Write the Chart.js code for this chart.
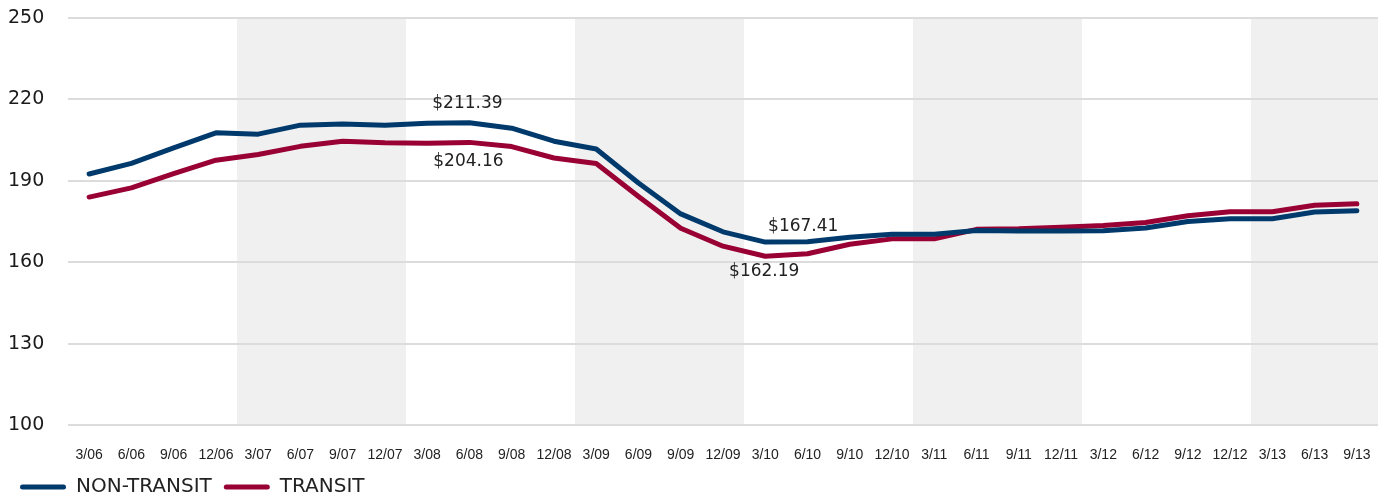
<!DOCTYPE html>
<html>
<head>
<meta charset="utf-8">
<script src="https://cdn.jsdelivr.net/npm/chart.js@4"></script>
<style>
  html, body { margin: 0; padding: 0; background: #fff; }
  #wrap { width: 1380px; height: 498px; }
</style>
</head>
<body>
<div id="wrap"><canvas id="chart"></canvas></div>
<script>
const quarters = [
  '3/06', '6/06', '9/06', '12/06',
  '3/07', '6/07', '9/07', '12/07',
  '3/08', '6/08', '9/08', '12/08',
  '3/09', '6/09', '9/09', '12/09',
  '3/10', '6/10', '9/10', '12/10',
  '3/11', '6/11', '9/11', '12/11',
  '3/12', '6/12', '9/12', '12/12',
  '3/13', '6/13', '9/13'
];

const nonTransit = [
  192.5, 196.4, 202.1, 207.7,
  207.2, 210.5, 210.9, 210.5,
  211.2, 211.39, 209.4, 204.6,
  201.7, 189.2, 177.8, 171.2,
  167.41, 167.5, 169.2, 170.3,
  170.3, 171.7, 171.5, 171.5,
  171.6, 172.6, 175.0, 176.0,
  176.0, 178.5, 179.0
];

const transit = [
  184.0, 187.4, 192.6, 197.6,
  199.7, 202.7, 204.6, 204.0,
  203.8, 204.16, 202.6, 198.4,
  196.4, 184.2, 172.5, 165.9,
  162.19, 163.1, 166.6, 168.6,
  168.6, 172.1, 172.3, 172.9,
  173.5, 174.6, 177.1, 178.6,
  178.6, 181.0, 181.5
];

const yTicks = [100, 130, 160, 190, 220, 250];

// which points get a value label: [dataset index, point index]
const callouts = [[0, 9], [1, 9], [0, 16], [1, 16]];
// pixel nudges for those labels
const calloutOffsets = [[-2, -19], [-1, 19], [38, -16], [-1, 15]];

// years shaded grey
const shadedYears = ['07', '09', '11', '13'];

const BLUE = '#003a6c';
const RED = '#990033';
const SANS = '"DejaVu Sans", "Noto Sans", sans-serif';

const bandsPlugin = {
  id: 'bands',
  beforeDraw(chart) {
    const { ctx, chartArea, scales } = chart;
    const x = scales.x;
    const step = x.getPixelForValue(1) - x.getPixelForValue(0);
    ctx.save();
    ctx.fillStyle = '#f0f0f0';
    quarters.forEach((q, i) => {
      if (shadedYears.includes(q.split('/')[1])) {
        const c = x.getPixelForValue(i);
        const l = Math.round(c - step / 2);
        const r = Math.min(Math.round(c + step / 2), Math.round(chartArea.right));
        ctx.fillRect(l, chartArea.top, r - l, chartArea.bottom - chartArea.top);
      }
    });
    ctx.restore();
  }
};

const calloutPlugin = {
  id: 'callouts',
  afterDatasetsDraw(chart) {
    const { ctx, scales } = chart;
    ctx.save();
    ctx.font = '17px ' + SANS;
    ctx.fillStyle = '#222';
    ctx.textAlign = 'center';
    ctx.textBaseline = 'middle';
    callouts.forEach(([d, i], k) => {
      const v = chart.data.datasets[d].data[i];
      const px = scales.x.getPixelForValue(i) + calloutOffsets[k][0];
      const py = scales.y.getPixelForValue(v) + calloutOffsets[k][1];
      ctx.fillText('$' + v.toFixed(2), px, py);
    });
    ctx.restore();
  }
};

new Chart(document.getElementById('chart'), {
  type: 'line',
  data: {
    labels: quarters,
    datasets: [
      {
        label: 'NON-TRANSIT',
        data: nonTransit,
        borderColor: BLUE,
        backgroundColor: BLUE,
        borderWidth: 5,
        pointRadius: 0,
        tension: 0,
        borderCapStyle: 'round',
        borderJoinStyle: 'round'
      },
      {
        label: 'TRANSIT',
        data: transit,
        borderColor: RED,
        backgroundColor: RED,
        borderWidth: 5,
        pointRadius: 0,
        tension: 0,
        borderCapStyle: 'round',
        borderJoinStyle: 'round'
      }
    ]
  },
  options: {
    responsive: true,
    maintainAspectRatio: false,
    animation: false,
    layout: { padding: { left: 8, right: 2, top: 18, bottom: 0 } },
    plugins: {
      tooltip: { enabled: false },
      legend: {
        position: 'bottom',
        align: 'start',
        maxHeight: 33,
        labels: {
          boxWidth: 46,
          boxHeight: 5,
          padding: 12,
          color: '#222',
          font: { family: SANS, size: 20 },
          useBorderRadius: true,
          borderRadius: 2.5,
          generateLabels(chart) {
            return chart.data.datasets.map((ds, i) => ({
              text: ds.label,
              fillStyle: ds.borderColor,
              strokeStyle: ds.borderColor,
              lineWidth: 0,
              borderRadius: 2.5,
              fontColor: '#222',
              datasetIndex: i,
              hidden: false
            }));
          }
        }
      }
    },
    scales: {
      x: {
        offset: true,
        // invisible tick marks push the labels down without padding the ends
        grid: { display: false, drawTicks: true, tickLength: 20, tickColor: 'rgba(0,0,0,0)' },
        border: { display: false },
        ticks: {
          color: '#222',
          padding: 2,
          maxRotation: 0,
          autoSkip: false,
          font: { family: '"Liberation Sans Narrow", "Arial Narrow", "Liberation Sans", sans-serif', size: 14 }
        },
        afterFit(scale) { scale.height = 40; }
      },
      y: {
        min: 100,
        max: 250,
        afterBuildTicks(scale) { scale.ticks = yTicks.map(v => ({ value: v })); },
        grid: { color: '#dcdcdc', lineWidth: 2, drawTicks: false },
        border: { display: false },
        ticks: {
          color: '#1a1a1a',
          crossAlign: 'far',
          padding: 0,
          font: { family: SANS, size: 19 }
        },
        afterFit(scale) { scale.width = 60; }
      }
    }
  },
  plugins: [bandsPlugin, calloutPlugin]
});
</script>
</body>
</html>
